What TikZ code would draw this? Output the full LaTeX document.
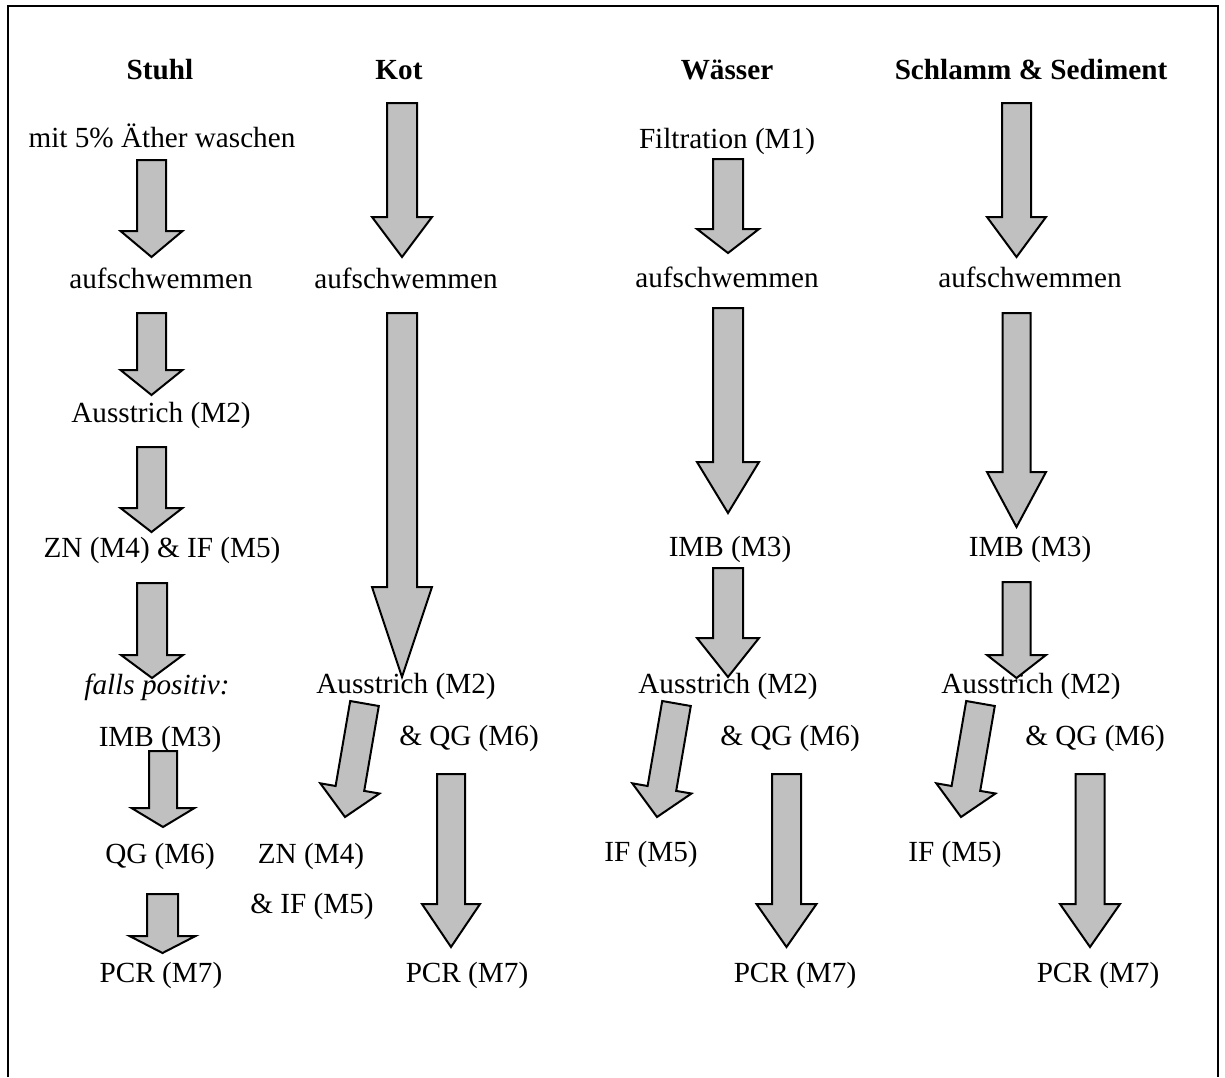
\documentclass[tikz,border=0pt]{standalone}
\usepackage{fontspec}
\setmainfont{Liberation Serif}
\definecolor{arrowgray}{RGB}{192,192,192}
\newcommand{\varrow}[6]{\draw[blk] ({#1-#5},#2) -- ({#1+#5},#2) -- ({#1+#5},#3) -- ({#1+#6},#3) -- (#1,#4) -- ({#1-#6},#3) -- ({#1-#5},#3) -- cycle;}
\newcommand{\sarrow}[1]{\begin{scope}[shift={(#1,0)}]\draw[blk] (350.2,701.0) -- (378.8,706.0) -- (364.2,790.9) -- (379.5,793.5) -- (345,817) -- (320.3,783.3) -- (335.6,786.0) -- cycle;\end{scope}}
\begin{document}
\begin{tikzpicture}[x=0.5pt,y=-0.5pt,
  txt/.style={anchor=base, inner sep=0pt, font=\fontsize{14.6}{17}\selectfont},
  hd/.style={anchor=base, inner sep=0pt, font=\fontsize{14.6}{17}\selectfont\bfseries},
  blk/.style={draw=black, fill=arrowgray, line width=1pt, line join=miter}]
\useasboundingbox (0,0) rectangle (1225,1077);
\draw[line width=1pt] (8,1077) -- (8,6) -- (1218,6) -- (1218,1077);

% Stuhl arrows
\varrow{151.5}{160}{231}{257}{14.5}{31}
\varrow{151.5}{313}{370}{395}{14.5}{31}
\varrow{151.5}{447}{508}{532}{14.5}{31}
\varrow{152}{583}{655}{678}{15}{31}
\varrow{163}{751}{808}{827}{14}{31.5}
\varrow{162.5}{894}{936}{953}{15.5}{33}
% Kot arrows
\varrow{402}{103}{217}{257}{15}{30}
\varrow{402}{313}{587}{677}{15}{30}
\varrow{451}{774}{904}{947}{14}{29}
\sarrow{0}
% Waesser arrows
\varrow{728}{159}{229}{253}{15}{31}
\varrow{728}{308}{462}{513}{15}{31}
\varrow{728}{568}{638}{677}{15}{31}
\varrow{786.5}{774}{904}{947}{14.5}{30}
\sarrow{312}
% Schlamm arrows
\varrow{1016.5}{103}{217}{257}{14.5}{29.5}
\varrow{1016.5}{313}{472}{527}{14}{29.5}
\varrow{1016.5}{582}{655}{678}{14}{29.5}
\varrow{1090}{774}{904}{947}{14.5}{30}
\sarrow{616}

% Headings
\node[hd] (h1) at (160,79) {Stuhl};
\node[hd] (h2) at (399,79) {Kot};
\node[hd] (h3) at (727,79) {Wässer};
\node[hd] (h4) at (1031,79) {Schlamm \& Sediment};

% Stuhl
\node[txt] (s1) at (162,147) {mit 5\% Äther waschen};
\node[txt] (s2) at (161,288) {aufschwemmen};
\node[txt] (s3) at (161,422) {Ausstrich (M2)};
\node[txt] (s4) at (162,557) {ZN (M4) \& IF (M5)};
\node[txt] (s5) at (157,694) {\itshape falls positiv:};
\node[txt] (s6) at (160,746) {IMB (M3)};
\node[txt] (s7) at (160,863) {QG (M6)};
\node[txt] (s8) at (161,982) {PCR (M7)};

% Kot
\node[txt] (k1) at (406,288) {aufschwemmen};
\node[txt] (k2) at (406,693) {Ausstrich (M2)};
\node[txt] (k3) at (469,745) {\& QG (M6)};
\node[txt] (k4) at (311,863) {ZN (M4)};
\node[txt] (k5) at (312,913) {\& IF (M5)};
\node[txt] (k6) at (467,982) {PCR (M7)};

% Waesser
\node[txt] (w1) at (727,148) {Filtration (M1)};
\node[txt] (w2) at (727,287) {aufschwemmen};
\node[txt] (w3) at (730,556) {IMB (M3)};
\node[txt] (w4) at (728,693) {Ausstrich (M2)};
\node[txt] (w5) at (790,745) {\& QG (M6)};
\node[txt] (w6) at (651,861) {IF (M5)};
\node[txt] (w7) at (795,982) {PCR (M7)};

% Schlamm
\node[txt] (m1) at (1030,287) {aufschwemmen};
\node[txt] (m2) at (1030,556) {IMB (M3)};
\node[txt] (m3) at (1031,693) {Ausstrich (M2)};
\node[txt] (m4) at (1095,745) {\& QG (M6)};
\node[txt] (m5) at (955,861) {IF (M5)};
\node[txt] (m6) at (1098,982) {PCR (M7)};
\end{tikzpicture}
\end{document}
